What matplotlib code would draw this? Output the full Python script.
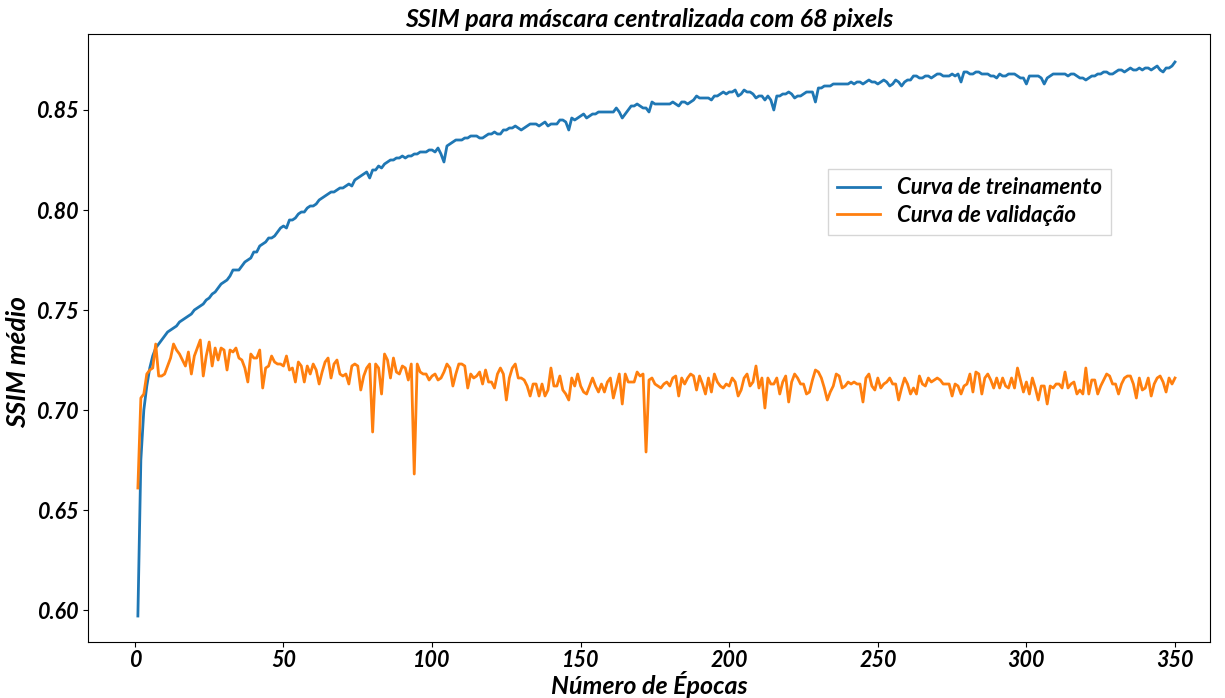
import numpy as np
import matplotlib.pyplot as plt

plt.rcParams['font.family'] = ['Lato', 'DejaVu Sans']
plt.rcParams['font.weight'] = 'bold'
plt.rcParams['font.style'] = 'italic'

# SSIM medio por epoca (1..350)
treino = [
    0.597, 0.675, 0.700, 0.712, 0.721, 0.727, 0.731, 0.733, 0.735, 0.737,
    0.739, 0.740, 0.741, 0.742, 0.744, 0.745, 0.746, 0.747, 0.748, 0.750,
    0.751, 0.752, 0.753, 0.755, 0.756, 0.758, 0.759, 0.761, 0.763, 0.764,
    0.765, 0.767, 0.770, 0.770, 0.770, 0.772, 0.774, 0.775, 0.776, 0.779,
    0.779, 0.782, 0.783, 0.784, 0.786, 0.786, 0.787, 0.789, 0.791, 0.792,
    0.791, 0.795, 0.795, 0.796, 0.798, 0.799, 0.799, 0.801, 0.802, 0.802,
    0.803, 0.805, 0.806, 0.807, 0.808, 0.809, 0.809, 0.810, 0.811, 0.811,
    0.812, 0.813, 0.812, 0.815, 0.816, 0.817, 0.818, 0.819, 0.816, 0.820,
    0.820, 0.822, 0.821, 0.823, 0.824, 0.825, 0.825, 0.826, 0.826, 0.827,
    0.826, 0.827, 0.827, 0.828, 0.828, 0.829, 0.829, 0.829, 0.830, 0.830,
    0.829, 0.831, 0.828, 0.824, 0.832, 0.833, 0.834, 0.835, 0.835, 0.835,
    0.836, 0.836, 0.837, 0.837, 0.837, 0.836, 0.836, 0.837, 0.838, 0.838,
    0.839, 0.838, 0.838, 0.840, 0.840, 0.841, 0.841, 0.842, 0.841, 0.840,
    0.841, 0.842, 0.843, 0.843, 0.843, 0.842, 0.843, 0.844, 0.842, 0.843,
    0.843, 0.843, 0.845, 0.845, 0.844, 0.840, 0.846, 0.845, 0.846, 0.847,
    0.848, 0.846, 0.847, 0.848, 0.848, 0.849, 0.849, 0.849, 0.849, 0.849,
    0.849, 0.851, 0.849, 0.846, 0.848, 0.850, 0.852, 0.852, 0.853, 0.852,
    0.851, 0.851, 0.849, 0.854, 0.853, 0.853, 0.853, 0.853, 0.853, 0.853,
    0.854, 0.853, 0.852, 0.854, 0.854, 0.853, 0.854, 0.855, 0.857, 0.856,
    0.856, 0.856, 0.856, 0.855, 0.857, 0.857, 0.858, 0.859, 0.858, 0.859,
    0.859, 0.860, 0.857, 0.858, 0.860, 0.859, 0.859, 0.858, 0.856, 0.857,
    0.857, 0.855, 0.857, 0.855, 0.850, 0.857, 0.857, 0.858, 0.858, 0.859,
    0.858, 0.856, 0.857, 0.857, 0.858, 0.859, 0.859, 0.859, 0.854, 0.861,
    0.861, 0.862, 0.862, 0.862, 0.863, 0.863, 0.863, 0.863, 0.863, 0.863,
    0.864, 0.863, 0.864, 0.864, 0.863, 0.864, 0.865, 0.864, 0.864, 0.863,
    0.864, 0.865, 0.864, 0.862, 0.863, 0.865, 0.864, 0.862, 0.864, 0.865,
    0.865, 0.867, 0.867, 0.866, 0.866, 0.867, 0.867, 0.866, 0.867, 0.868,
    0.868, 0.867, 0.867, 0.867, 0.868, 0.867, 0.868, 0.864, 0.869, 0.869,
    0.868, 0.868, 0.869, 0.869, 0.868, 0.868, 0.868, 0.867, 0.867, 0.866,
    0.868, 0.867, 0.867, 0.868, 0.868, 0.868, 0.867, 0.866, 0.866, 0.863,
    0.867, 0.867, 0.867, 0.867, 0.866, 0.863, 0.866, 0.867, 0.868, 0.868,
    0.868, 0.868, 0.868, 0.867, 0.868, 0.868, 0.867, 0.866, 0.866, 0.865,
    0.866, 0.867, 0.867, 0.868, 0.868, 0.869, 0.869, 0.868, 0.868, 0.869,
    0.870, 0.870, 0.869, 0.870, 0.871, 0.870, 0.870, 0.871, 0.870, 0.871,
    0.871, 0.870, 0.871, 0.872, 0.870, 0.869, 0.871, 0.871, 0.872, 0.874,
]

validacao = [
    0.661, 0.706, 0.708, 0.718, 0.720, 0.721, 0.733, 0.717, 0.717, 0.718,
    0.722, 0.726, 0.733, 0.730, 0.728, 0.725, 0.722, 0.729, 0.718, 0.727,
    0.731, 0.735, 0.717, 0.727, 0.734, 0.722, 0.731, 0.725, 0.731, 0.730,
    0.720, 0.730, 0.729, 0.731, 0.726, 0.725, 0.721, 0.714, 0.728, 0.726,
    0.726, 0.730, 0.711, 0.721, 0.722, 0.727, 0.724, 0.723, 0.723, 0.722,
    0.727, 0.720, 0.721, 0.714, 0.724, 0.722, 0.714, 0.722, 0.718, 0.723,
    0.720, 0.713, 0.719, 0.724, 0.726, 0.716, 0.723, 0.725, 0.718, 0.717,
    0.718, 0.713, 0.722, 0.723, 0.722, 0.710, 0.717, 0.721, 0.723, 0.689,
    0.723, 0.721, 0.708, 0.728, 0.725, 0.716, 0.726, 0.719, 0.718, 0.722,
    0.721, 0.715, 0.723, 0.668, 0.723, 0.719, 0.718, 0.718, 0.715, 0.717,
    0.718, 0.715, 0.716, 0.719, 0.723, 0.721, 0.712, 0.718, 0.723, 0.723,
    0.722, 0.711, 0.718, 0.716, 0.717, 0.719, 0.713, 0.720, 0.714, 0.714,
    0.711, 0.718, 0.721, 0.718, 0.705, 0.716, 0.721, 0.723, 0.716, 0.716,
    0.715, 0.712, 0.707, 0.713, 0.713, 0.707, 0.713, 0.707, 0.710, 0.721,
    0.712, 0.712, 0.717, 0.710, 0.708, 0.705, 0.716, 0.712, 0.718, 0.712,
    0.709, 0.708, 0.712, 0.716, 0.712, 0.709, 0.713, 0.709, 0.714, 0.716,
    0.706, 0.712, 0.718, 0.703, 0.718, 0.714, 0.714, 0.714, 0.719, 0.717,
    0.718, 0.679, 0.715, 0.716, 0.713, 0.712, 0.711, 0.713, 0.714, 0.712,
    0.716, 0.717, 0.707, 0.716, 0.713, 0.716, 0.718, 0.717, 0.710, 0.717,
    0.713, 0.708, 0.716, 0.709, 0.718, 0.714, 0.712, 0.711, 0.713, 0.712,
    0.716, 0.714, 0.707, 0.710, 0.716, 0.718, 0.712, 0.714, 0.722, 0.711,
    0.716, 0.701, 0.716, 0.713, 0.713, 0.716, 0.708, 0.714, 0.717, 0.704,
    0.714, 0.718, 0.716, 0.713, 0.713, 0.708, 0.709, 0.715, 0.720, 0.719,
    0.716, 0.711, 0.705, 0.709, 0.712, 0.718, 0.717, 0.711, 0.712, 0.714,
    0.713, 0.714, 0.713, 0.713, 0.704, 0.716, 0.718, 0.712, 0.710, 0.716,
    0.711, 0.713, 0.714, 0.716, 0.713, 0.713, 0.705, 0.711, 0.716, 0.713,
    0.708, 0.711, 0.708, 0.717, 0.713, 0.712, 0.716, 0.714, 0.715, 0.716,
    0.715, 0.713, 0.713, 0.713, 0.707, 0.713, 0.712, 0.708, 0.712, 0.713,
    0.718, 0.709, 0.719, 0.718, 0.708, 0.716, 0.718, 0.715, 0.711, 0.716,
    0.711, 0.716, 0.712, 0.711, 0.716, 0.711, 0.721, 0.715, 0.709, 0.714,
    0.708, 0.716, 0.711, 0.705, 0.712, 0.712, 0.703, 0.712, 0.711, 0.713,
    0.713, 0.711, 0.719, 0.711, 0.713, 0.714, 0.708, 0.710, 0.708, 0.721,
    0.708, 0.715, 0.715, 0.708, 0.712, 0.715, 0.718, 0.717, 0.713, 0.713,
    0.708, 0.713, 0.716, 0.717, 0.717, 0.713, 0.706, 0.716, 0.710, 0.711,
    0.716, 0.707, 0.713, 0.716, 0.717, 0.714, 0.709, 0.716, 0.713, 0.716,
]

epocas = np.arange(1, len(treino) + 1)

fig = plt.figure(figsize=(12.25, 6.98), dpi=100)
ax = fig.add_axes([0.0718, 0.0802, 0.916, 0.8711])

ax.plot(epocas, treino, color='#1f77b4', linewidth=2, label='Curva de treinamento')
ax.plot(epocas, validacao, color='#ff7f0e', linewidth=2, label='Curva de validação')

ax.set_xlim(-15.8, 361.8)
ax.set_ylim(0.584, 0.888)
ax.set_xticks(np.arange(0, 351, 50))
ax.set_yticks([0.60, 0.65, 0.70, 0.75, 0.80, 0.85])
ax.set_yticklabels(['0.60', '0.65', '0.70', '0.75', '0.80', '0.85'])
ax.tick_params(labelsize=15.5)
ax.tick_params(axis='x', pad=2.5)
for lbl in ax.get_xticklabels() + ax.get_yticklabels():
    lbl.set_fontweight('bold')
    lbl.set_fontstyle('italic')

ax.set_title('SSIM para máscara centralizada com 68 pixels', fontsize=18,
             fontweight='bold', fontstyle='italic', pad=5)
ax.set_xlabel('Número de Épocas', fontsize=18, fontweight='bold',
              fontstyle='italic', labelpad=0)
ax.set_ylabel('SSIM médio', fontsize=19, fontweight='bold',
              fontstyle='italic')
ax.yaxis.set_label_coords(-0.052, 0.46)

ax.legend(loc='upper left', bbox_to_anchor=(0.65, 0.797),
          prop={'weight': 'bold', 'style': 'italic', 'size': 16},
          labelspacing=0.3, handlelength=1.9,
          frameon=True, fancybox=False, edgecolor='#cccccc')

fig.savefig('out.png', dpi=100)
